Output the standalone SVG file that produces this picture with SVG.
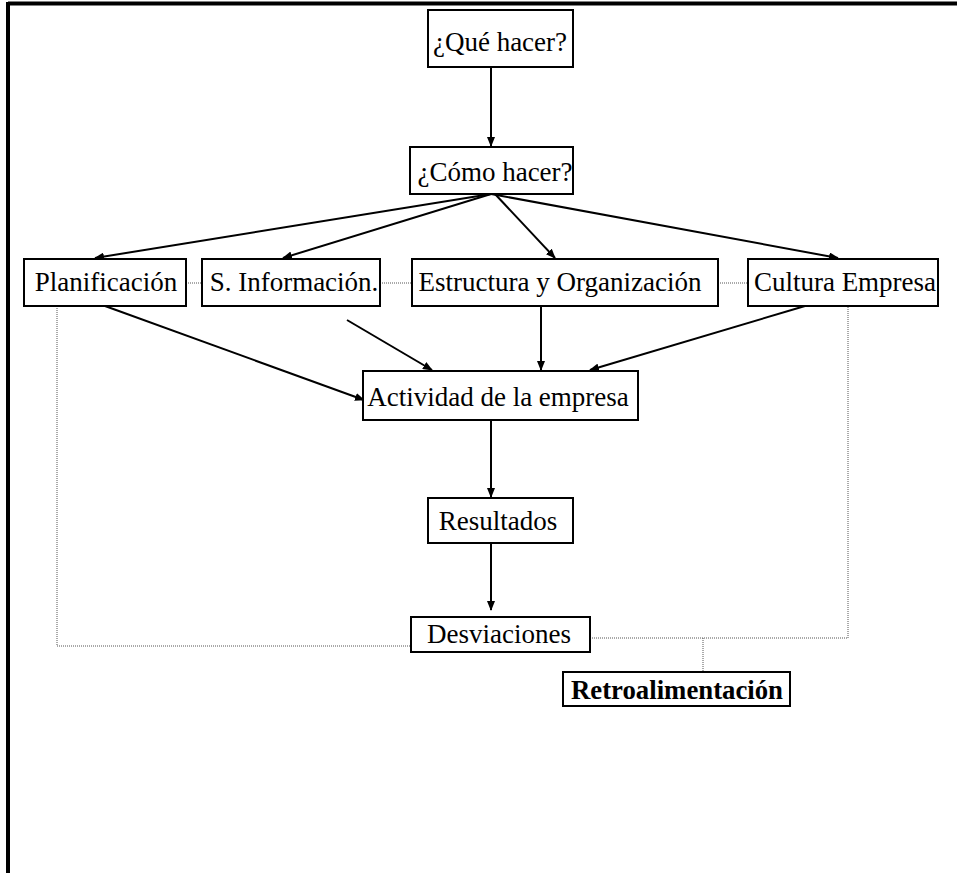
<svg xmlns="http://www.w3.org/2000/svg" width="957" height="873" viewBox="0 0 957 873">
<defs>
<style>
.box{fill:#fff;stroke:#000;stroke-width:2}
.t{font-family:"Liberation Serif","Times New Roman",serif;font-size:27px;fill:#000;text-anchor:middle}
.b{font-weight:bold}
.arr{stroke:#000;stroke-width:2;fill:none;marker-end:url(#ah)}
.dot{stroke:#555;stroke-width:1;stroke-dasharray:1 1;fill:none}
</style>
<marker id="ah" markerWidth="10" markerHeight="8" refX="9" refY="4" orient="auto" markerUnits="userSpaceOnUse">
<path d="M0,0 L10,4 L0,8 z" fill="#000"/>
</marker>
</defs>
<rect x="0" y="0" width="957" height="873" fill="#fff"/>
<g id="frame">
<line x1="8" y1="3.5" x2="957" y2="3.5" stroke="#000" stroke-width="4"/>
<line x1="8" y1="2" x2="8" y2="873" stroke="#000" stroke-width="4"/>
</g>
<g id="connectors">
<line class="arr" x1="491" y1="67" x2="491" y2="146"/>
<line class="arr" x1="491" y1="194" x2="95" y2="258"/>
<line class="arr" x1="491" y1="194" x2="283" y2="258"/>
<line class="arr" x1="495" y1="194" x2="555" y2="258"/>
<line class="arr" x1="491" y1="194" x2="838" y2="258"/>
<line class="arr" x1="105" y1="306" x2="364" y2="400"/>
<line class="arr" x1="347" y1="320" x2="432" y2="370"/>
<line class="arr" x1="541" y1="306" x2="541" y2="370"/>
<line class="arr" x1="805" y1="306" x2="590" y2="370"/>
<line class="arr" x1="491" y1="420" x2="491" y2="497"/>
<line class="arr" x1="491" y1="543" x2="491" y2="610"/>
<line class="dot" x1="186" y1="283" x2="202" y2="283"/>
<line class="dot" x1="380" y1="283" x2="412" y2="283"/>
<line class="dot" x1="718" y1="283" x2="748" y2="283"/>
<polyline class="dot" points="57,306 57,646 411,646"/>
<polyline class="dot" points="590,638 848,638 848,306"/>
<line class="dot" x1="703" y1="638" x2="703" y2="672"/>
</g>
<g id="que"><rect class="box" x="428" y="10" width="145" height="57"/><text class="t" x="500" y="51">¿Qué hacer?</text></g>
<g id="como"><rect class="box" x="410" y="147" width="163" height="47"/><text class="t" x="495" y="181">¿Cómo hacer?</text></g>
<g id="plan"><rect class="box" x="24" y="259" width="162" height="47"/><text class="t" x="106" y="291">Planificación</text></g>
<g id="sinfo"><rect class="box" x="202" y="259" width="178" height="47"/><text class="t" x="294" y="291">S. Información.</text></g>
<g id="estr"><rect class="box" x="412" y="259" width="306" height="47"/><text class="t" x="560" y="291">Estructura y Organización</text></g>
<g id="cult"><rect class="box" x="748" y="259" width="190" height="47"/><text class="t" x="845" y="291">Cultura Empresa</text></g>
<g id="activ"><rect class="box" x="363" y="371" width="275" height="49"/><text class="t" x="498" y="406">Actividad de la empresa</text></g>
<g id="result"><rect class="box" x="428" y="498" width="145" height="45"/><text class="t" x="498" y="530">Resultados</text></g>
<g id="desv"><rect class="box" x="411" y="617" width="179" height="35"/><text class="t" x="499" y="643">Desviaciones</text></g>
<g id="retro"><rect class="box" x="563" y="672" width="227" height="34"/><text class="t b" x="677" y="699" textLength="212" lengthAdjust="spacingAndGlyphs">Retroalimentación</text></g>
</svg>
